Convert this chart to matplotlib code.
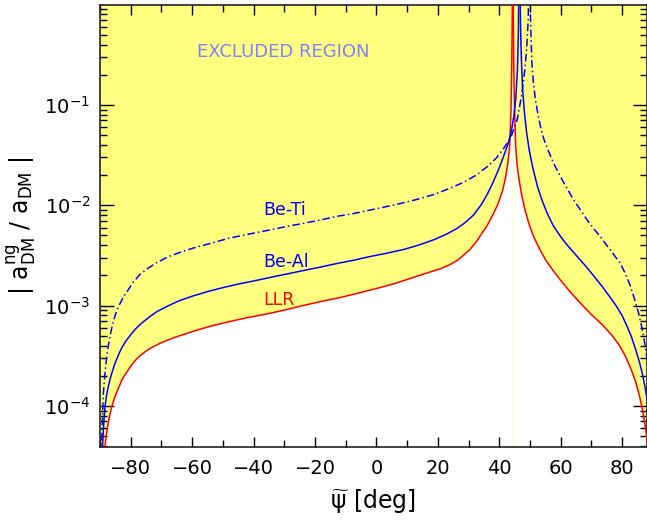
import numpy as np
import matplotlib
matplotlib.use("Agg")
import matplotlib.pyplot as plt
from matplotlib.ticker import MultipleLocator, LogLocator, NullFormatter

# ---------------- data ----------------
# LLR (red), left and right branch of the pole near 45 deg
llr_left_x = [-88.8, -88.4, -88.0, -87.5, -87.0, -86.2, -85.3, -84.5, -83.7, -82.9,
              -82.0, -81.0, -79.7, -78.5, -77.0, -75.3, -73.0, -70.0, -66.0, -62.0,
              -58.0, -54.0, -48.0, -42.0, -36.0, -30.0, -24.0, -18.0, -12.0, -6.0,
              0.0, 6.0, 12.0, 17.0, 21.0, 24.0, 26.5, 28.5, 30.6, 32.5,
              34.0, 36.0, 38.0, 39.5, 41.0, 42.0, 42.8, 43.4, 43.8, 44.05,
              44.2, 44.3]
llr_left_y = [1.58e-5, 3.89e-5, 5.01e-5, 6.31e-5, 7.59e-5, 9.77e-5, 1.20e-4, 1.38e-4, 1.58e-4, 1.82e-4,
              2.02e-4, 2.24e-4, 2.57e-4, 2.85e-4, 3.16e-4, 3.47e-4, 3.85e-4, 4.27e-4, 4.79e-4, 5.25e-4,
              5.75e-4, 6.24e-4, 6.92e-4, 7.59e-4, 8.22e-4, 9.02e-4, 1.0e-3, 1.10e-3, 1.20e-3, 1.33e-3,
              1.48e-3, 1.66e-3, 1.91e-3, 2.14e-3, 2.34e-3, 2.57e-3, 2.85e-3, 3.20e-3, 3.67e-3, 4.32e-3,
              5.07e-3, 6.24e-3, 8.13e-3, 1.02e-2, 1.38e-2, 1.86e-2, 2.63e-2, 3.98e-2, 8.91e-2, 0.251,
              0.631, 2.0]
llr_right_x = [44.45, 44.55, 44.7, 44.9, 45.3, 45.8, 46.5, 47.3, 48.3, 49.5,
               51.0, 53.0, 55.0, 57.5, 60.0, 63.0, 66.5, 70.0, 73.5, 76.5,
               79.0, 81.0, 83.0, 84.5, 85.8, 86.8, 87.6, 88.3]
llr_right_y = [2.0, 0.631, 0.251, 0.112, 3.98e-2, 2.51e-2, 1.74e-2, 1.26e-2, 9.12e-3, 6.76e-3,
               5.01e-3, 3.72e-3, 2.88e-3, 2.24e-3, 1.78e-3, 1.38e-3, 1.05e-3, 8.13e-4, 6.46e-4, 5.13e-4,
               4.07e-4, 3.16e-4, 2.29e-4, 1.70e-4, 1.20e-4, 8.51e-5, 6.03e-5, 3.98e-5]

# Be-Al (blue solid)
beal_left_x = [-89.6, -89.2, -88.8, -88.4, -87.9, -87.4, -86.8, -86.2, -85.3, -84.5,
               -83.7, -82.9, -81.5, -80.0, -78.5, -76.5, -74.0, -71.5, -68.0, -64.5,
               -60.0, -55.0, -50.0, -45.0, -40.0, -34.6, -29.0, -23.7, -18.0, -12.8,
               -7.0, -2.0, 3.0, 8.9, 14.0, 19.0, 23.0, 26.3, 29.0, 31.5,
               34.0, 36.1, 38.0, 39.8, 41.3, 42.7, 43.8, 44.7, 45.4, 45.9,
               46.2, 46.4]
beal_left_y = [1.58e-5, 3.89e-5, 6.61e-5, 9.77e-5, 1.26e-4, 1.51e-4, 1.82e-4, 2.11e-4, 2.57e-4, 2.95e-4,
               3.39e-4, 3.80e-4, 4.47e-4, 5.13e-4, 5.82e-4, 6.68e-4, 7.67e-4, 8.71e-4, 9.89e-4, 1.11e-3,
               1.24e-3, 1.38e-3, 1.51e-3, 1.64e-3, 1.76e-3, 1.91e-3, 2.07e-3, 2.24e-3, 2.43e-3, 2.63e-3,
               2.85e-3, 3.09e-3, 3.31e-3, 3.63e-3, 4.03e-3, 4.57e-3, 5.19e-3, 5.89e-3, 6.76e-3, 7.94e-3,
               1.0e-2, 1.29e-2, 1.70e-2, 2.29e-2, 3.02e-2, 3.98e-2, 5.25e-2, 7.59e-2, 0.120, 0.224,
               0.501, 2.0]
beal_right_x = [46.7, 46.9, 47.2, 47.6, 48.2, 48.9, 49.8, 51.0, 52.4, 54.0,
                55.6, 57.5, 59.9, 62.2, 64.2, 66.5, 68.5, 71.0, 73.5, 76.0,
                78.0, 80.0, 81.5, 83.0, 84.3, 85.5, 86.6, 87.5, 88.3]
beal_right_y = [2.0, 0.631, 0.282, 0.141, 8.32e-2, 5.25e-2, 3.47e-2, 2.29e-2, 1.55e-2, 1.10e-2,
                8.32e-3, 6.31e-3, 4.90e-3, 3.98e-3, 3.39e-3, 2.82e-3, 2.40e-3, 1.93e-3, 1.55e-3, 1.22e-3,
                1.0e-3, 7.94e-4, 6.31e-4, 4.90e-4, 3.72e-4, 2.82e-4, 2.09e-4, 1.51e-4, 1.07e-4]

# Be-Ti (blue dash-dot)
beti_left_x = [-89.9, -89.5, -89.2, -88.9, -88.4, -87.8, -87.0, -86.0, -85.0, -84.0,
               -82.5, -81.0, -79.0, -77.0, -75.0, -72.0, -68.0, -64.0, -59.0, -54.0,
               -48.2, -42.0, -34.6, -29.0, -23.7, -18.0, -12.8, -7.0, -2.0, 3.0,
               8.9, 14.0, 19.0, 24.0, 28.5, 32.5, 36.1, 39.0, 41.5, 43.7,
               45.8, 47.3, 48.3, 48.9, 49.4, 49.7]
beti_left_y = [1.58e-5, 3.89e-5, 7.94e-5, 1.35e-4, 2.09e-4, 3.16e-4, 4.57e-4, 6.31e-4, 8.13e-4, 9.77e-4,
               1.20e-3, 1.41e-3, 1.74e-3, 2.04e-3, 2.29e-3, 2.63e-3, 3.05e-3, 3.39e-3, 3.80e-3, 4.17e-3,
               4.68e-3, 5.13e-3, 5.68e-3, 6.17e-3, 6.61e-3, 7.16e-3, 7.76e-3, 8.32e-3, 8.97e-3, 9.66e-3,
               1.06e-2, 1.16e-2, 1.29e-2, 1.48e-2, 1.70e-2, 2.0e-2, 2.43e-2, 2.95e-2, 3.72e-2, 4.68e-2,
               7.08e-2, 0.126, 0.224, 0.355, 0.708, 2.0]
beti_right_x = [49.9, 50.2, 50.6, 51.1, 51.7, 52.5, 53.5, 54.5, 55.6, 57.5,
                59.9, 62.0, 64.2, 66.5, 68.6, 70.8, 72.9, 75.0, 77.0, 79.4,
                81.0, 82.5, 84.0, 85.3, 86.5, 87.5, 88.3]
beti_right_y = [2.0, 0.631, 0.263, 0.166, 0.117, 8.32e-2, 5.89e-2, 4.57e-2, 3.72e-2, 2.69e-2,
                1.93e-2, 1.48e-2, 1.13e-2, 8.91e-3, 7.13e-3, 5.82e-3, 4.86e-3, 3.98e-3, 3.31e-3, 2.63e-3,
                2.09e-3, 1.62e-3, 1.17e-3, 8.51e-4, 5.89e-4, 3.98e-4, 2.63e-4]

# ---------------- figure ----------------
yellow = '#ffff80'
fig = plt.figure(figsize=(6.47, 5.22), dpi=100)
ax = fig.add_axes([0.1546, 0.1437, 0.845, 0.8467])
ax.set_facecolor(yellow)
ax.set_yscale('log')
ax.set_xlim(-90, 88)
ax.set_ylim(3.9e-5, 0.99)

# white = allowed region below LLR
ax.fill_between(llr_left_x, 1e-7, llr_left_y, color='white', lw=0, zorder=1)
ax.fill_between(llr_right_x, 1e-7, llr_right_y, color='white', lw=0, zorder=1)

lw = 1.1
ax.plot(llr_left_x, llr_left_y, color='red', lw=lw, zorder=3)
ax.plot(llr_right_x, llr_right_y, color='red', lw=lw, zorder=3)
ax.plot(beal_left_x, beal_left_y, color='blue', lw=lw, zorder=3)
ax.plot(beal_right_x, beal_right_y, color='blue', lw=lw, zorder=3)
for bx, by in [(beti_left_x, beti_left_y), (beti_right_x, beti_right_y)]:
    l, = ax.plot(bx, by, color='blue', lw=lw, zorder=3)
    l.set_dashes([5, 2, 1, 2])

# labels in the plot
ax.text(-58.5, 0.34, 'EXCLUDED REGION', color='#8080ff', fontsize=13,
        ha='left', va='center')
ax.text(-36.9, 8.97e-3, 'Be-Ti', color='blue', fontsize=12.5, ha='left', va='center')
ax.text(-36.9, 2.72e-3, 'Be-Al', color='blue', fontsize=12.5, ha='left', va='center')
ax.text(-36.9, 1.14e-3, 'LLR', color='red', fontsize=12.5, ha='left', va='center')

# ticks
ax.xaxis.set_major_locator(MultipleLocator(20))
ax.xaxis.set_minor_locator(MultipleLocator(10))
ax.yaxis.set_major_locator(LogLocator(base=10, numticks=10))
ax.yaxis.set_minor_locator(LogLocator(base=10, subs=np.arange(2, 10), numticks=20))
ax.yaxis.set_minor_formatter(NullFormatter())
ax.tick_params(which='both', direction='in', top=True, right=True, labelsize=14, width=1.0)
ax.tick_params(axis='x', which='major', length=7, pad=9)
ax.tick_params(axis='x', which='minor', length=5)
ax.tick_params(axis='y', which='major', length=10, pad=7)
ax.tick_params(axis='y', which='minor', length=5)
for s in ax.spines.values():
    s.set_linewidth(1.2)
    s.set_color('#222222')

ax.set_xlabel(r'$\widetilde{\mathrm{\psi}}$ [deg]', fontsize=17)
ax.set_ylabel(r'$\mathregular{|\ a^{ng}_{DM}\ /\ a_{DM}\ |}$', fontsize=17)
ax.xaxis.set_label_coords(0.5, -0.09)
ax.yaxis.set_label_coords(-0.113, 0.5)

fig.savefig('out.png', dpi=100)
